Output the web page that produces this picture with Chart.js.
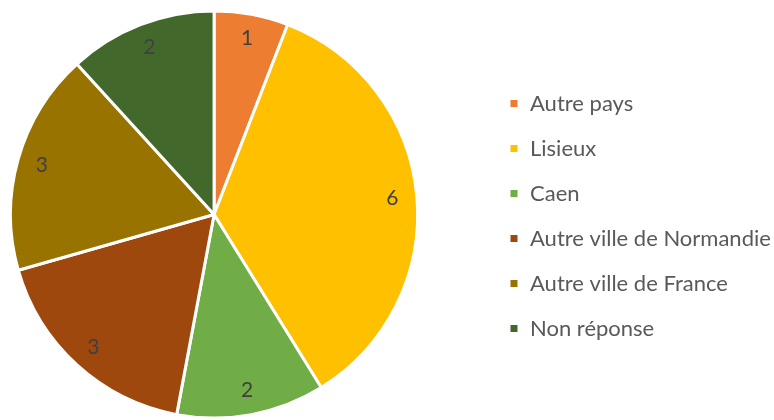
<!DOCTYPE html>
<html>
<head>
<meta charset="utf-8">
<script src="https://cdn.jsdelivr.net/npm/chart.js@4/dist/chart.umd.min.js"></script>
<style>
html,body{margin:0;padding:0;background:#fff;}
#wrap{width:774px;height:420px;position:relative;}
</style>
</head>
<body>
<div id="wrap"><canvas id="c" width="774" height="420"></canvas></div>
<script>
const categories = ["Autre pays", "Lisieux", "Caen", "Autre ville de Normandie", "Autre ville de France", "Non réponse"];
const values = [1, 6, 2, 3, 3, 2];
const colors = ["#ED7D31", "#FFC000", "#70AD47", "#9E480E", "#997300", "#43682B"];

const valueLabels = {
  id: 'valueLabels',
  afterDatasetsDraw(chart) {
    const ctx = chart.ctx;
    const meta = chart.getDatasetMeta(0);
    ctx.save();
    ctx.font = '21px Lato';
    ctx.fillStyle = '#404040';
    ctx.textAlign = 'center';
    ctx.textBaseline = 'middle';
    meta.data.forEach((arc, i) => {
      const p = arc.getProps(['x','y','startAngle','endAngle','outerRadius']);
      const mid = (p.startAngle + p.endAngle) / 2;
      const r = p.outerRadius * 0.88;
      ctx.fillText(String(chart.data.datasets[0].data[i]), p.x + Math.cos(mid) * r, p.y + Math.sin(mid) * r);
    });
    ctx.restore();
  }
};

// place legend items at a fixed x, leaving a gap between pie and legend
const legendShift = {
  id: 'legendShift',
  afterLayout(chart) {
    const lg = chart.legend;
    const target = 509 - 23; // legend left so that boxes start at x=509
    const d = target - lg.left;
    lg.left += d;
    lg.right += d;
    lg.top += 1.5;
    lg.bottom += 1.5;
  }
};

new Chart(document.getElementById('c'), {
  type: 'pie',
  data: {
    labels: categories,
    datasets: [{
      data: values,
      backgroundColor: colors,
      borderColor: '#ffffff',
      borderWidth: 3
    }]
  },
  options: {
    responsive: false,
    animation: false,
    layout: { padding: { left: 9, top: 9, bottom: 0, right: 60 } },
    plugins: {
      legend: {
        position: 'right',
        align: 'center',
        labels: {
          boxWidth: 10,
          boxHeight: 10,
          padding: 23,
          color: '#595959',
          font: { family: 'Lato', size: 22 }
        }
      },
      tooltip: { enabled: false }
    }
  },
  plugins: [valueLabels, legendShift]
});
</script>
</body>
</html>
